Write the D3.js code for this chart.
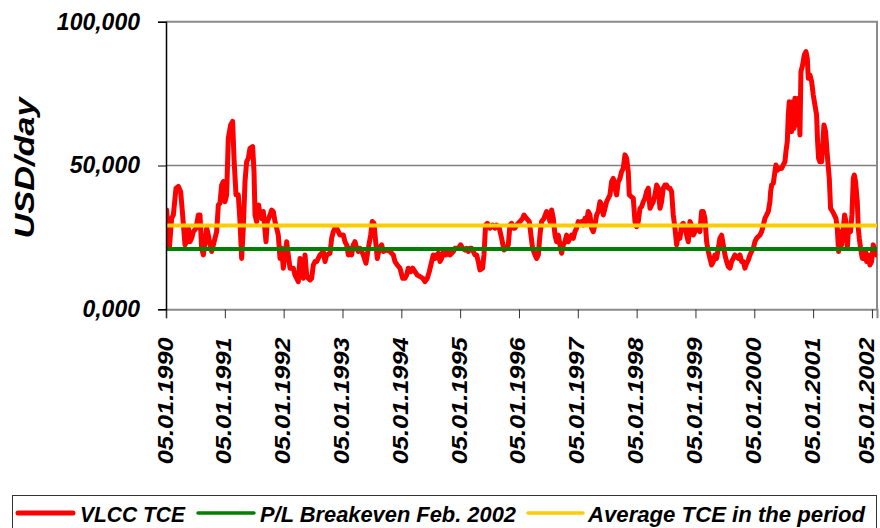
<!DOCTYPE html>
<html>
<head>
<meta charset="utf-8">
<script src="https://cdn.jsdelivr.net/npm/d3@7"></script>
<style>
  html, body { margin: 0; padding: 0; background: #ffffff; }
  svg { display: block; }
  text { font-family: "Liberation Sans", Arial, sans-serif; font-weight: bold; font-style: italic; fill: #000; }
</style>
</head>
<body>
<div id="chart"></div>
<script>
// ---------------- DATA ----------------
const years = [
  1990.011,1990.057,1990.096,1990.125,1990.170,1990.210,1990.249,1990.283,1990.323,1990.351,1990.380,1990.408,1990.436,1990.465,1990.510,1990.550,1990.578,1990.606,1990.635,1990.663,1990.691,1990.720,1990.748,1990.776,1990.805,1990.861,1990.890,1990.918,1990.946,1990.975,
  1991.003,1991.031,1991.059,1991.099,1991.133,1991.156,1991.190,1991.229,1991.258,1991.286,1991.314,1991.343,1991.371,1991.399,1991.428,1991.473,1991.496,1991.513,1991.541,1991.575,1991.598,1991.626,1991.654,1991.700,1991.722,1991.768,1991.796,1991.824,1991.853,1991.881,1991.909,1991.938,1991.966,1991.994,
  1992.023,1992.051,1992.079,1992.108,1992.164,1992.193,1992.221,1992.249,1992.278,1992.306,1992.334,1992.363,1992.391,1992.419,1992.448,1992.476,1992.504,1992.533,1992.561,1992.618,1992.674,1992.703,1992.731,1992.788,1992.816,1992.844,1992.873,1992.901,1992.958,1992.986,
  1993.014,1993.042,1993.071,1993.099,1993.127,1993.156,1993.184,1993.212,1993.241,1993.269,1993.297,1993.326,1993.354,1993.399,1993.439,1993.479,1993.507,1993.535,1993.564,1993.592,1993.626,1993.666,1993.694,1993.751,1993.807,1993.864,1993.892,1993.932,1993.977,
  1994.023,1994.062,1994.091,1994.119,1994.159,1994.193,1994.232,1994.272,1994.317,1994.363,1994.402,1994.442,1994.476,1994.516,1994.544,1994.572,1994.601,1994.629,1994.657,1994.686,1994.714,1994.759,1994.799,1994.827,1994.884,1994.912,1994.969,
  1995.008,1995.042,1995.082,1995.110,1995.139,1995.167,1995.195,1995.224,1995.252,1995.280,1995.309,1995.337,1995.382,1995.405,1995.433,1995.462,1995.507,1995.552,1995.592,1995.620,1995.666,1995.705,1995.745,1995.779,1995.819,1995.847,1995.875,1995.904,1995.932,1995.960,
  1996.017,1996.062,1996.085,1996.130,1996.176,1996.204,1996.232,1996.272,1996.300,1996.329,1996.357,1996.385,1996.425,1996.470,1996.499,1996.527,1996.555,1996.584,1996.612,1996.640,1996.669,1996.697,1996.725,1996.754,1996.782,1996.810,1996.839,1996.867,1996.895,1996.924,1996.952,1996.980,
  1997.008,1997.037,1997.065,1997.093,1997.122,1997.150,1997.178,1997.207,1997.235,1997.263,1997.292,1997.320,1997.348,1997.377,1997.405,1997.433,1997.462,1997.490,1997.518,1997.547,1997.575,1997.603,1997.632,1997.660,1997.688,1997.717,1997.745,1997.773,1997.802,1997.830,1997.858,1997.875,1997.904,1997.943,1997.972,
  1998.000,1998.028,1998.057,1998.085,1998.113,1998.142,1998.170,1998.198,1998.227,1998.255,1998.283,1998.312,1998.340,1998.368,1998.397,1998.425,1998.453,1998.482,1998.510,1998.538,1998.567,1998.595,1998.623,1998.652,1998.680,1998.708,1998.737,1998.765,1998.793,1998.822,1998.850,1998.878,1998.907,1998.935,1998.963,1998.992,
  1999.020,1999.048,1999.076,1999.105,1999.133,1999.161,1999.190,1999.218,1999.246,1999.275,1999.303,1999.331,1999.360,1999.388,1999.416,1999.445,1999.473,1999.501,1999.530,1999.558,1999.586,1999.615,1999.643,1999.671,1999.700,1999.728,1999.756,1999.785,1999.813,1999.841,1999.870,1999.898,1999.926,1999.955,1999.983,
  2000.011,2000.040,2000.068,2000.096,2000.125,2000.153,2000.181,2000.210,2000.238,2000.266,2000.278,2000.295,2000.323,2000.351,2000.368,2000.397,2000.425,2000.465,2000.493,2000.521,2000.538,2000.561,2000.578,2000.595,2000.618,2000.635,2000.652,2000.674,2000.691,2000.720,2000.737,2000.754,2000.776,2000.793,2000.822,2000.850,2000.878,2000.901,2000.918,2000.946,2000.975,
  2001.003,2001.031,2001.059,2001.076,2001.093,2001.116,2001.144,2001.161,2001.184,2001.212,2001.241,2001.275,2001.297,2001.331,2001.360,2001.388,2001.411,2001.433,2001.456,2001.484,2001.513,2001.535,2001.558,2001.581,2001.603,2001.637,2001.660,2001.683,2001.700,2001.722,2001.751,2001.768,2001.785,2001.807,2001.836,2001.864,2001.892,2001.909,2001.938,2001.966,2001.994,
  2002.023,2002.051,2002.079
];

// VLCC TCE, thousand USD/day
const tce = [
  34.5,21.2,31.6,32.8,42.1,42.7,40.9,32.8,22.4,23.5,28.2,23.5,24.7,27.0,28.2,32.8,32.8,21.2,18.9,23.5,28.2,25.8,22.4,20.1,22.4,27.0,36.3,36.9,43.2,44.4,
  37.4,39.8,59.5,64.1,65.3,52.5,39.8,39.8,30.5,17.7,28.2,44.4,51.3,52.5,56.0,56.6,47.9,32.8,30.5,36.3,32.8,31.6,34.0,23.5,30.5,32.8,34.5,34.0,30.5,28.2,25.8,17.7,21.2,14.3,
  18.9,23.5,18.9,14.3,14.3,11.9,10.8,9.6,17.7,14.3,10.8,18.9,11.9,10.8,10.2,10.8,15.4,16.6,16.6,18.9,20.1,16.6,18.9,19.5,24.7,27.0,28.2,28.2,25.8,25.8,
  25.8,23.5,22.4,18.9,21.2,18.9,22.4,23.5,21.2,20.1,21.2,20.1,18.9,16.0,21.2,25.8,30.5,29.9,23.5,17.7,21.2,22.4,20.1,20.6,20.1,18.9,16.6,15.4,14.3,
  10.8,10.8,11.9,14.3,13.1,14.3,13.1,11.9,11.4,10.8,9.6,10.8,13.1,16.6,18.9,17.7,18.9,19.5,16.6,17.7,20.1,18.9,20.1,18.9,20.1,21.2,21.2,
  22.4,21.2,20.6,21.2,20.1,21.2,21.2,20.1,18.9,18.9,16.6,13.7,14.3,18.9,29.3,29.9,28.2,29.3,28.2,29.3,28.2,24.7,20.6,21.2,22.4,29.3,29.9,28.2,28.2,29.3,
  30.5,31.6,32.8,31.6,30.5,25.8,21.2,18.9,17.7,18.9,25.8,30.5,31.6,34.0,32.8,30.5,34.5,31.6,25.8,23.5,25.8,22.4,19.5,22.4,23.5,25.8,23.5,24.7,25.8,24.7,27.0,28.2,
  30.5,29.9,30.5,29.3,31.6,30.5,34.0,32.8,28.2,27.0,29.3,32.8,34.0,37.4,36.3,32.8,35.1,37.4,38.6,39.8,44.4,45.5,42.1,39.8,44.4,45.5,47.9,49.0,53.7,52.5,47.9,39.8,39.2,38.6,30.5,
  28.7,30.5,35.1,35.7,37.4,38.6,40.9,42.1,35.1,36.3,37.4,39.8,43.2,42.1,35.1,37.4,42.1,43.2,43.2,42.1,42.1,40.9,32.8,28.2,22.4,25.8,24.7,29.3,29.9,28.2,25.8,23.5,30.5,29.3,25.8,27.0,
  28.2,28.2,27.0,34.0,34.0,31.6,23.5,20.1,17.7,15.4,16.6,18.9,17.7,21.2,24.7,25.8,22.4,18.9,16.6,14.8,14.3,16.6,17.7,18.9,18.3,17.7,18.9,16.6,16.6,14.3,16.0,17.1,18.9,20.1,21.2,
  23.5,24.7,25.3,25.8,27.0,29.3,31.6,32.8,34.0,37.4,40.9,43.2,43.8,47.9,50.2,48.4,49.0,49.0,50.2,51.3,54.8,58.3,67.6,72.2,67.6,61.8,72.2,62.9,73.4,72.2,64.1,73.4,60.6,82.6,85.0,88.4,89.6,87.3,80.3,81.5,79.2,
  74.5,71.0,67.6,58.3,52.5,51.3,51.3,56.0,64.1,61.8,53.7,45.5,35.1,34.0,32.8,31.6,28.2,20.1,27.0,22.4,28.2,32.8,30.5,21.2,28.2,27.0,32.8,45.5,46.7,44.4,37.4,28.2,24.7,21.2,17.7,17.7,20.1,16.6,18.9,15.4,16.6,
  22.4,20.1,18.9
];

const breakeven = 21.0;   // P/L Breakeven Feb. 2002
const averageTce = 29.1;  // Average TCE in the period

const xTickYears = [1990,1991,1992,1993,1994,1995,1996,1997,1998,1999,2000,2001,2002];
const xTickLabels = ["05.01.1990","05.01.1991","05.01.1992","05.01.1993","05.01.1994","05.01.1995","05.01.1996","05.01.1997","05.01.1998","05.01.1999","05.01.2000","05.01.2001","05.01.2002"];
const yTickValues = [0, 50, 100];
const yTickLabels = ["0,000", "50,000", "100,000"];
const yTitle = "USD/day";
const legendLabels = ["VLCC TCE", "P/L Breakeven Feb. 2002", "Average TCE in the period"];
const seriesColors = ["#ff0000", "#008000", "#ffcc00"];

// ---------------- CHART ----------------
const W = 880, H = 528;
const plot = { left: 166, right: 877, top: 21.7, bottom: 309.3 };

const svg = d3.select("#chart").append("svg").attr("width", W).attr("height", H);

const x = d3.scaleLinear().domain([1990, 2002.086]).range([plot.left, plot.right]);
const y = d3.scaleLinear().domain([0, 100]).range([plot.bottom, plot.top]);

// gridline at 50,000
svg.append("line")
  .attr("x1", plot.left).attr("x2", plot.right)
  .attr("y1", y(50)).attr("y2", y(50))
  .attr("stroke", "#808080").attr("stroke-width", 1.5);

// plot frame (top and right, gray)
svg.append("path")
  .attr("d", `M${plot.left},${y(100)}H${plot.right}V${plot.bottom}`)
  .attr("fill", "none").attr("stroke", "#8a8a8a").attr("stroke-width", 2);

// clip
svg.append("clipPath").attr("id", "clip").append("rect")
  .attr("x", plot.left).attr("y", plot.top - 2)
  .attr("width", plot.right - plot.left).attr("height", plot.bottom - plot.top + 2);

const data = years.map((yr, i) => ({ yr, v: tce[i] }));

svg.append("path")
  .datum(data)
  .attr("clip-path", "url(#clip)")
  .attr("fill", "none")
  .attr("stroke", seriesColors[0])
  .attr("stroke-width", 5)
  .attr("stroke-linejoin", "round")
  .attr("stroke-linecap", "round")
  .attr("d", d3.line().x(d => x(d.yr)).y(d => y(d.v)));

// horizontal reference lines
svg.append("line")
  .attr("x1", plot.left).attr("x2", plot.right)
  .attr("y1", y(averageTce)).attr("y2", y(averageTce))
  .attr("stroke", seriesColors[2]).attr("stroke-width", 4);
svg.append("line")
  .attr("x1", plot.left).attr("x2", plot.right)
  .attr("y1", y(breakeven)).attr("y2", y(breakeven))
  .attr("stroke", seriesColors[1]).attr("stroke-width", 4);

// x axis
const xAxis = svg.append("g")
  .attr("transform", `translate(0,${plot.bottom})`)
  .call(d3.axisBottom(x).tickValues(xTickYears).tickSize(9).tickFormat(""));
xAxis.select(".domain").attr("stroke", "#8a8a8a").attr("stroke-width", 2);
xAxis.selectAll(".tick line").attr("stroke", "#333");
const lastIdx = xTickYears.length - 1;
xAxis.selectAll(".tick").append("text")
  .attr("transform", (d, i) => `translate(${i === lastIdx ? 1.5 : 6},28) rotate(-90)`)
  .attr("text-anchor", "end")
  .attr("font-size", 21.5)
  .attr("textLength", 127)
  .attr("lengthAdjust", "spacingAndGlyphs")
  .text((d, i) => xTickLabels[i]);

// y axis
const yAxis = svg.append("g")
  .attr("transform", `translate(${plot.left},0)`)
  .call(d3.axisLeft(y).tickValues(yTickValues).tickSize(8).tickPadding(18)
        .tickFormat((d, i) => yTickLabels[i]));
yAxis.select(".domain").attr("stroke", "#000").attr("stroke-width", 1.5);
yAxis.selectAll(".tick line").attr("stroke", "#000");
yAxis.selectAll(".tick text")
  .attr("font-size", 23)
  .attr("font-family", "'Liberation Sans', Arial, sans-serif")
  .attr("font-weight", "bold").attr("font-style", "italic")
  .attr("fill", "#000");

// y title
svg.append("text")
  .attr("transform", "translate(34,168) rotate(-90)")
  .attr("text-anchor", "middle")
  .attr("font-size", 28)
  .attr("textLength", 141)
  .attr("lengthAdjust", "spacingAndGlyphs")
  .text(yTitle);

// legend
svg.append("rect")
  .attr("x", 12.5).attr("y", 495.5).attr("width", 864).attr("height", 40)
  .attr("fill", "#fff").attr("stroke", "#333").attr("stroke-width", 1);

const legendItems = [
  { x1: 18, x2: 73, tx: 80, tw: 105, w: 5 },
  { x1: 198, x2: 254, tx: 260, tw: 256, w: 3.5 },
  { x1: 528, x2: 583, tx: 588, tw: 277, w: 3.5 }
];
const lg = svg.append("g");
legendItems.forEach((it, i) => {
  lg.append("line")
    .attr("x1", it.x1).attr("x2", it.x2).attr("y1", 513).attr("y2", 513)
    .attr("stroke", seriesColors[i]).attr("stroke-width", it.w).attr("stroke-linecap", "round");
  lg.append("text")
    .attr("x", it.tx).attr("y", 521.5)
    .attr("font-size", 22)
    .attr("textLength", it.tw)
    .attr("lengthAdjust", "spacingAndGlyphs")
    .text(legendLabels[i]);
});
</script>
</body>
</html>
